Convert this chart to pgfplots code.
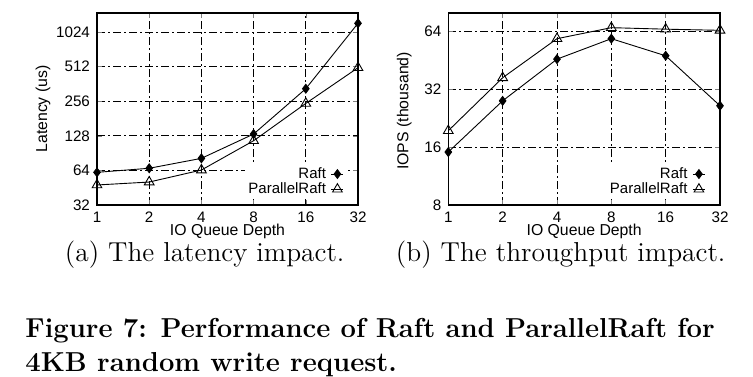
\documentclass[border=0pt]{standalone}
\usepackage{fontspec}
\newfontfamily\helv{Liberation Sans}
\usepackage{pgfplots}
\pgfplotsset{compat=1.18}
\begin{document}
\begin{tikzpicture}
\useasboundingbox (0pt,0pt) rectangle (376.5pt,-188pt);
\begin{axis}[
  scale only axis,
  at={(48.5pt,-102.5pt)}, anchor=south west,
  width=130.5pt, height=96pt,
  xmode=log, ymode=log,
  log basis x=2, log basis y=2,
  xmin=1, xmax=32,
  xtick={1,2,4,8,16,32},
  xticklabels={1,2,4,8,16,32},
  ymin=32, ymax=1500,
  ytick={32,64,128,256,512,1024},
  yticklabels={32,64,128,256,512,1024},
  /pgf/number format/assume math mode=true,
  tick label style={font=\helv\fontsize{7.6}{9}\selectfont},
  label style={font=\helv\fontsize{7.9}{9}\selectfont},
  tick align=inside,
  major tick length=2.5pt,
  axis line style={line width=0.6pt},
  grid=major,
  major grid style={black, line width=0.4pt, dash pattern=on 4pt off 1.5pt on 1pt off 1.5pt},
  xlabel={IO Queue Depth},
  ylabel={Latency (us)},
  x label style={at={(axis description cs:0.5,-0.14)},anchor=center},
  y label style={at={(axis description cs:-0.207,0.5)},rotate=0,anchor=center},
  legend plot pos=right,
  legend cell align=right,
  legend style={draw=none, fill=white, font=\helv\fontsize{7.5}{9}\selectfont,
    at={(axis description cs:0.955,0.03)},
    anchor=south east, inner sep=1pt, row sep=0pt, column sep=2pt,
    nodes={text height=5.4pt, text depth=1.2pt, inner sep=0.5pt}},
  legend image code/.code={\draw[mark repeat=2,mark phase=2,#1] plot coordinates {(0pt,0pt) (3pt,0pt) (6pt,0pt)};},
]
\addplot[black, line width=0.45pt, mark=diamond*, mark size=2.2pt, mark options={solid, fill=black}] coordinates {(1,61.6) (2,66.8) (4,81.5) (8,132.6) (16,329) (32,1220)};
\addlegendentry{Raft}
\addplot[black, line width=0.45pt, mark=triangle, mark size=2.8pt, mark options={solid, fill=white}] coordinates {(1,47.8) (2,50.7) (4,64.5) (8,116) (16,245) (32,501)};
\addlegendentry{ParallelRaft}
\end{axis}
\begin{axis}[
  scale only axis,
  at={(224.15pt,-102.5pt)}, anchor=south west,
  width=135.85pt, height=96pt,
  xmode=log, ymode=log,
  log basis x=2, log basis y=2,
  xmin=1, xmax=32,
  xtick={1,2,4,8,16,32},
  xticklabels={1,2,4,8,16,32},
  ymin=8, ymax=80,
  ytick={8,16,32,64},
  yticklabels={8,16,32,64},
  /pgf/number format/assume math mode=true,
  tick label style={font=\helv\fontsize{7.6}{9}\selectfont},
  label style={font=\helv\fontsize{7.9}{9}\selectfont},
  tick align=inside,
  major tick length=2.5pt,
  axis line style={line width=0.6pt},
  grid=major,
  major grid style={black, line width=0.4pt, dash pattern=on 4pt off 1.5pt on 1pt off 1.5pt},
  xlabel={IO Queue Depth},
  ylabel={IOPS (thousand)},
  x label style={at={(axis description cs:0.5,-0.14)},anchor=center},
  y label style={at={(axis description cs:-0.162,0.49)},rotate=0,anchor=center},
  legend plot pos=right,
  legend cell align=right,
  legend style={draw=none, fill=white, font=\helv\fontsize{7.5}{9}\selectfont,
    at={(axis description cs:0.955,0.03)},
    anchor=south east, inner sep=1pt, row sep=0pt, column sep=2pt,
    nodes={text height=5.4pt, text depth=1.2pt, inner sep=0.5pt}},
  legend image code/.code={\draw[mark repeat=2,mark phase=2,#1] plot coordinates {(0pt,0pt) (3pt,0pt) (6pt,0pt)};},
]
\addplot[black, line width=0.45pt, mark=diamond*, mark size=2.2pt, mark options={solid, fill=black}] coordinates {(1,15.1) (2,27.9) (4,46.0) (8,58.8) (16,47.9) (32,26.3)};
\addlegendentry{Raft}
\addplot[black, line width=0.45pt, mark=triangle, mark size=2.8pt, mark options={solid, fill=white}] coordinates {(1,19.5) (2,36.8) (4,58.8) (8,67.1) (16,65.9) (32,65.0)};
\addlegendentry{ParallelRaft}
\end{axis}
\node[anchor=base, inner sep=0pt, font=\fontsize{13.7}{16.85}\selectfont] at (102.35pt,-130.85pt) {(a) The latency impact.};
\node[anchor=base, inner sep=0pt, font=\fontsize{13.7}{16.85}\selectfont] at (280.35pt,-130.85pt) {(b) The throughput impact.};
\node[anchor=base west, inner sep=0pt, font=\fontsize{13.7}{16.85}\selectfont\bfseries] at (12.5pt,-168.65pt) {Figure 7: Performance of Raft and ParallelRaft for};
\node[anchor=base west, inner sep=0pt, font=\fontsize{13.7}{16.85}\selectfont\bfseries] at (12.5pt,-185.5pt) {4KB random write request.};
\end{tikzpicture}
\end{document}
